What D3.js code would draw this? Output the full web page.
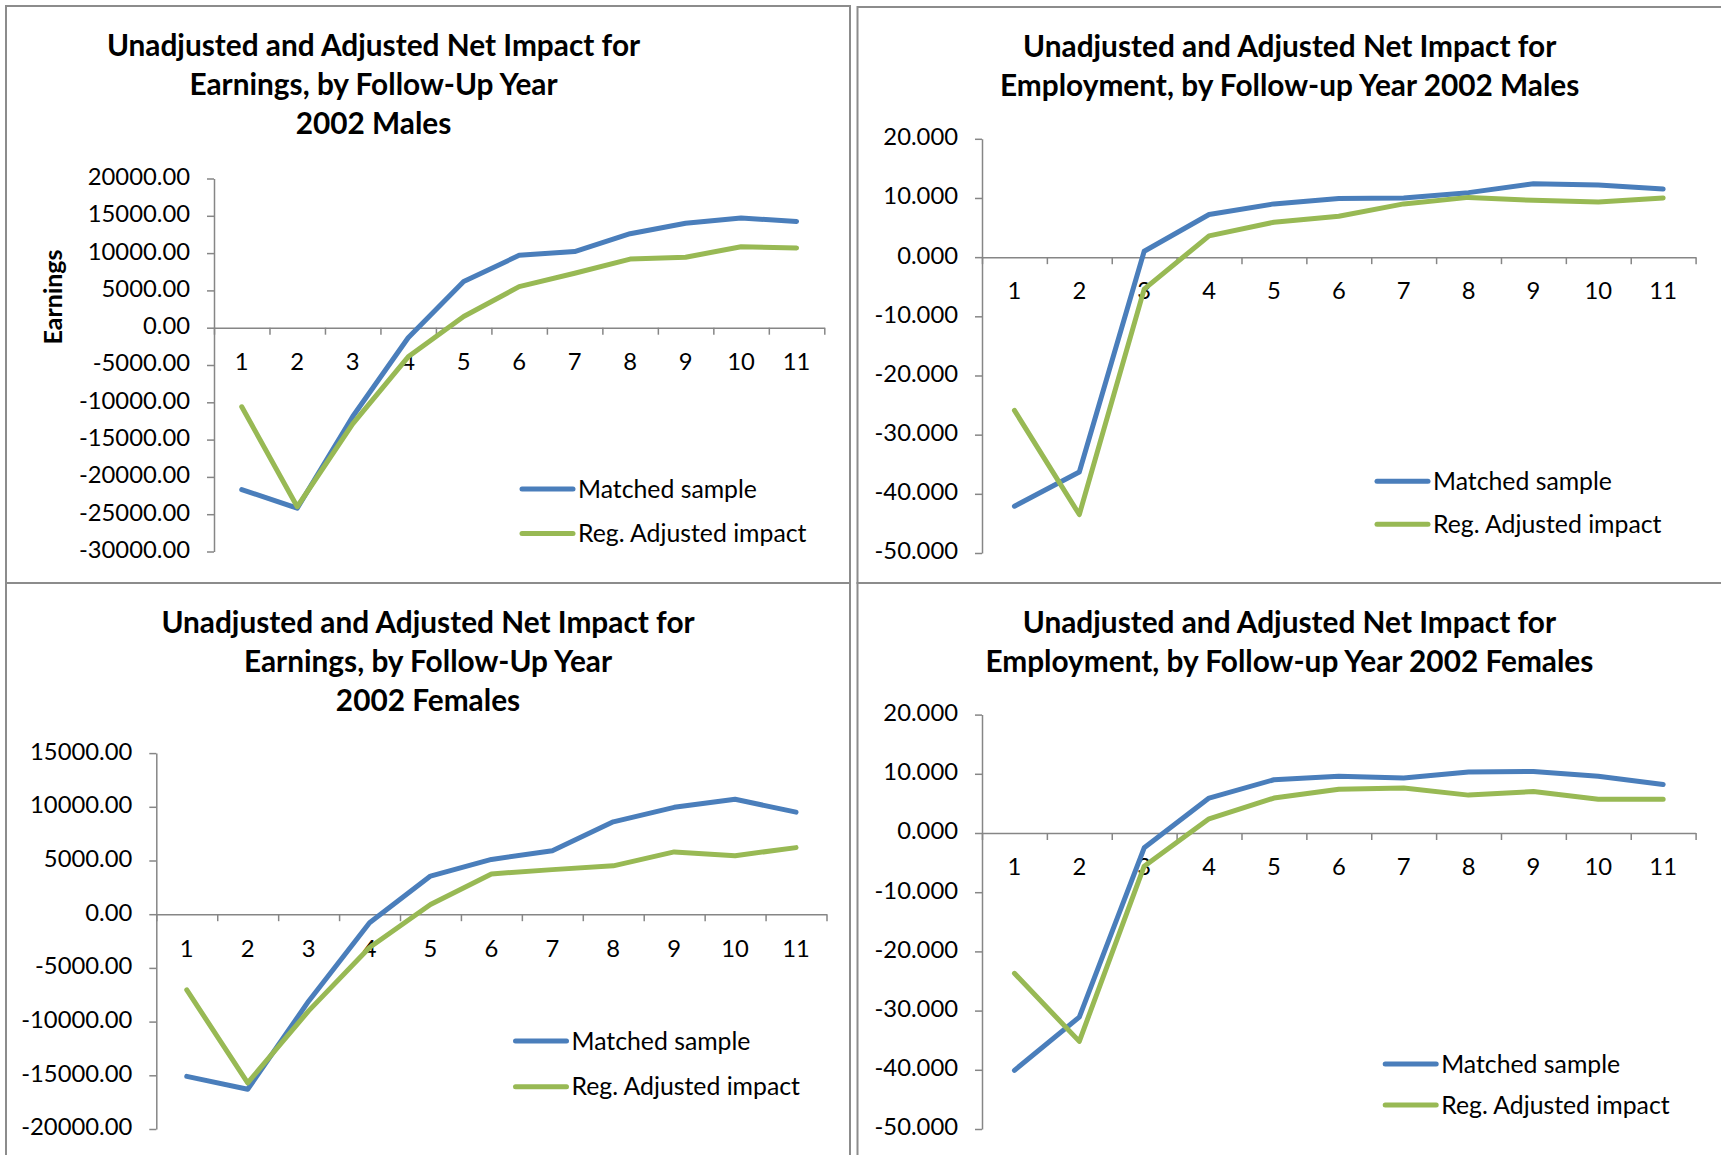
<!DOCTYPE html>
<html>
<head>
<meta charset="utf-8">
<script src="https://cdn.jsdelivr.net/npm/d3@7"></script>
<style>
  html, body { margin: 0; padding: 0; background: #fff; }
  svg { display: block; }
  text { font-family: Lato, "Open Sans", sans-serif; fill: #000; }
</style>
</head>
<body>
<svg id="chart" width="1721" height="1155"></svg>
<script>
// Follow-up years (categories)
const years = ["1", "2", "3", "4", "5", "6", "7", "8", "9", "10", "11"];

// Series names
const seriesNames = ["Matched sample", "Reg. Adjusted impact"];

// Earnings, 2002 males
const maleEarnMatched  = [-21700, -24200, -11900, -1350, 6200, 9700, 10200, 12600, 14000, 14700, 14250];
const maleEarnAdjusted = [-10600, -24000, -12900, -3900, 1500, 5500, 7300, 9200, 9450, 10850, 10700];

// Employment, 2002 males
const maleEmpMatched  = [-42.1, -36.3, 1.0, 7.2, 9.0, 9.9, 10.0, 10.9, 12.4, 12.2, 11.5];
const maleEmpAdjusted = [-25.9, -43.5, -5.4, 3.6, 5.9, 6.9, 9.0, 10.1, 9.6, 9.3, 10.0];

// Earnings, 2002 females
const femaleEarnMatched  = [-15100, -16300, -8100, -800, 3550, 5100, 5900, 8600, 9950, 10700, 9500];
const femaleEarnAdjusted = [-7050, -15700, -9000, -3100, 900, 3750, 4150, 4500, 5800, 5450, 6200];

// Employment, 2002 females
const femaleEmpMatched  = [-40.1, -31.1, -2.5, 5.9, 9.0, 9.6, 9.3, 10.3, 10.4, 9.6, 8.2];
const femaleEmpAdjusted = [-23.7, -35.2, -5.6, 2.4, 5.9, 7.4, 7.6, 6.4, 7.0, 5.7, 5.7];

// Y-axis tick values
const earnMaleTicks   = [20000, 15000, 10000, 5000, 0, -5000, -10000, -15000, -20000, -25000, -30000];
const earnFemaleTicks = [15000, 10000, 5000, 0, -5000, -10000, -15000, -20000];
const empTicks        = [20, 10, 0, -10, -20, -30, -40, -50];

// Chart titles
const titleEarnMale   = ["Unadjusted and Adjusted Net Impact for", "Earnings, by Follow-Up Year", "2002 Males"];
const titleEmpMale    = ["Unadjusted and Adjusted Net Impact for", "Employment, by Follow-up Year 2002 Males"];
const titleEarnFemale = ["Unadjusted and Adjusted Net Impact for", "Earnings, by Follow-Up Year", "2002 Females"];
const titleEmpFemale  = ["Unadjusted and Adjusted Net Impact for", "Employment, by Follow-up Year 2002 Females"];

const COLORS = ["#4A7EBB", "#98B954"];
const AXIS_COLOR = "#868686";
const BORDER_COLOR = "#8c8c8c";

const svg = d3.select("#chart");

// Chart-area frames
const frames = [
  { x: 6,     y: 6,   w: 844, h: 577 },
  { x: 857.5, y: 7,   w: 900, h: 576 },
  { x: 6,     y: 583, w: 844, h: 620 },
  { x: 857.5, y: 583, w: 900, h: 620 }
];
svg.selectAll("rect.frame").data(frames).join("rect")
  .attr("class", "frame")
  .attr("x", d => d.x).attr("y", d => d.y)
  .attr("width", d => d.w).attr("height", d => d.h)
  .attr("fill", "none").attr("stroke", BORDER_COLOR).attr("stroke-width", 2);

function drawPanel(cfg) {
  const g = svg.append("g");

  // title
  const t = g.append("text")
    .attr("text-anchor", "middle")
    .style("font-weight", "700")
    .style("font-size", "29.8px");
  cfg.title.forEach((line, i) => {
    t.append("tspan").attr("x", cfg.titleX).attr("y", cfg.titleY + i * 38.8).text(line);
  });

  const x = d3.scaleBand().domain(years).range([cfg.x0, cfg.x1]);
  const xb = d3.scaleLinear().domain([0, years.length]).range([cfg.x0, cfg.x1]);
  const y = d3.scaleLinear().domain(cfg.yDomain).range([cfg.yBottom, cfg.yTop]);
  const fmt = v => v.toFixed(cfg.decimals);

  // y axis
  const ya = g.append("g")
    .attr("transform", `translate(${cfg.x0},0)`)
    .call(d3.axisLeft(y).tickValues(cfg.ticks).tickFormat(fmt).tickSize(7).tickSizeOuter(0).tickPadding(17));
  ya.select(".domain").attr("stroke", AXIS_COLOR).attr("stroke-width", 1.5);
  ya.selectAll(".tick line").attr("stroke", AXIS_COLOR).attr("stroke-width", 1.5);
  ya.selectAll(".tick text")
    .attr("dy", "0.25em")
    .style("font-family", "Lato, sans-serif")
    .style("font-size", "23.8px").attr("fill", "#000");

  // x axis at zero: tick marks between categories
  const y0 = y(0);
  const xt = g.append("g")
    .attr("transform", `translate(0,${y0})`)
    .call(d3.axisBottom(xb).tickValues(d3.range(years.length + 1)).tickFormat("").tickSize(7).tickSizeOuter(0));
  xt.select(".domain").attr("stroke", AXIS_COLOR).attr("stroke-width", 1.5);
  xt.selectAll(".tick line").attr("stroke", AXIS_COLOR).attr("stroke-width", 1.5);

  // x category labels
  const xl = g.append("g")
    .attr("transform", `translate(0,${y0})`)
    .call(d3.axisBottom(x).tickSize(0));
  xl.select(".domain").remove();
  xl.selectAll(".tick text")
    .attr("y", 34).attr("dy", "0.35em")
    .style("font-family", "Lato, sans-serif")
    .style("font-size", "23.8px").attr("fill", "#000");

  // series lines
  const line = d3.line()
    .x((d, i) => x(years[i]) + x.bandwidth() / 2)
    .y(d => y(d));
  cfg.series.forEach((s, k) => {
    g.append("path")
      .datum(s)
      .attr("d", line)
      .attr("fill", "none")
      .attr("stroke", COLORS[k])
      .attr("stroke-width", 5)
      .attr("stroke-linejoin", "round")
      .attr("stroke-linecap", "round");
  });

  // legend
  seriesNames.forEach((name, k) => {
    const ly = cfg.legendY[k];
    g.append("line")
      .attr("x1", cfg.legendX).attr("x2", cfg.legendX + 51)
      .attr("y1", ly).attr("y2", ly)
      .attr("stroke", COLORS[k]).attr("stroke-width", 5).attr("stroke-linecap", "round");
    g.append("text")
      .attr("x", cfg.legendX + 56).attr("y", ly).attr("dy", "0.35em")
      .style("font-size", "24.8px")
      .text(name);
  });

  if (cfg.yLabel) {
    g.append("text")
      .attr("transform", `translate(${cfg.yLabelX},${cfg.yLabelY}) rotate(-90)`)
      .attr("text-anchor", "middle")
      .style("font-weight", "700")
      .style("font-size", "25px")
      .text(cfg.yLabel);
  }
}

drawPanel({
  title: titleEarnMale, titleX: 373.5, titleY: 56,
  x0: 214, x1: 824.3, yTop: 178.5, yBottom: 551.5, yDomain: [-30000, 20000],
  ticks: earnMaleTicks, decimals: 2,
  series: [maleEarnMatched, maleEarnAdjusted],
  legendX: 522, legendY: [489, 533.6],
  yLabel: "Earnings", yLabelX: 62, yLabelY: 297
});

drawPanel({
  title: titleEmpMale, titleX: 1289.7, titleY: 56.7,
  x0: 982, x1: 1695.6, yTop: 138.8, yBottom: 553, yDomain: [-50, 20],
  ticks: empTicks, decimals: 3,
  series: [maleEmpMatched, maleEmpAdjusted],
  legendX: 1377, legendY: [481.3, 524.3]
});

drawPanel({
  title: titleEarnFemale, titleX: 428, titleY: 633.2,
  x0: 156.3, x1: 826.5, yTop: 753.1, yBottom: 1129, yDomain: [-20000, 15000],
  ticks: earnFemaleTicks, decimals: 2,
  series: [femaleEarnMatched, femaleEarnAdjusted],
  legendX: 515.5, legendY: [1041, 1086.8]
});

drawPanel({
  title: titleEmpFemale, titleX: 1289.4, titleY: 633.2,
  x0: 982, x1: 1695.6, yTop: 714.6, yBottom: 1129, yDomain: [-50, 20],
  ticks: empTicks, decimals: 3,
  series: [femaleEmpMatched, femaleEmpAdjusted],
  legendX: 1385.2, legendY: [1064, 1105]
});
</script>
</body>
</html>
